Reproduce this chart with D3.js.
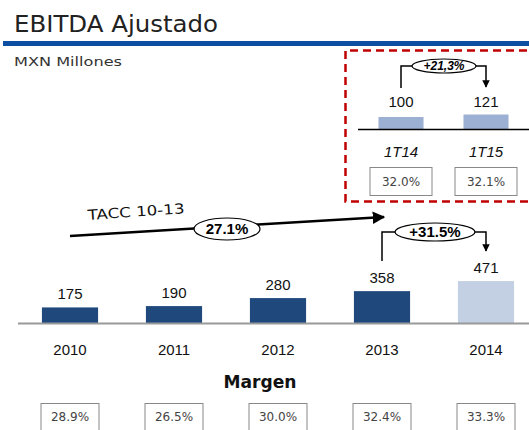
<!DOCTYPE html>
<html>
<head>
<meta charset="utf-8">
<script src="https://cdn.jsdelivr.net/npm/d3@7"></script>
<style>
  body { margin: 0; background: #fff; }
  text { font-family: "Liberation Sans", Arial, sans-serif; }
  .gothic { font-family: "DejaVu Sans", sans-serif; }
</style>
</head>
<body>
<div id="chart"></div>
<script>
"use strict";

var years = ["2010", "2011", "2012", "2013", "2014"];
var ebitda = [175, 190, 280, 358, 471];
var margins = ["28.9%", "26.5%", "30.0%", "32.4%", "33.3%"];
var quarters = ["1T14", "1T15"];
var quarterValues = [100, 121];
var quarterMargins = ["32.0%", "32.1%"];
var cagrLabel = "27.1%";
var yearGrowth = "+31.5%";
var quarterGrowth = "+21,3%";

var W = 529, H = 430;
var darkBlue = "#1f497d", lightBlue = "#c3cfe2", midBlue = "#9bb0d2";

var svg = d3.select("#chart").append("svg")
  .attr("width", W).attr("height", H);

var defs = svg.append("defs");
defs.append("marker")
  .attr("id", "arrow")
  .attr("viewBox", "0 0 10 10")
  .attr("refX", 9).attr("refY", 5)
  .attr("markerWidth", 5).attr("markerHeight", 5.5)
  .attr("orient", "auto")
  .append("path").attr("d", "M0,0L10,5L0,10z").attr("fill", "#000");

// header
svg.append("text").attr("class", "gothic")
  .attr("x", 14).attr("y", 32)
  .attr("font-size", 23).attr("fill", "#222")
  .attr("textLength", 204).attr("lengthAdjust", "spacingAndGlyphs")
  .text("EBITDA Ajustado");
svg.append("rect").attr("x", 3).attr("y", 41).attr("width", W).attr("height", 5)
  .attr("fill", "#0b4ea2");
svg.append("text").attr("class", "gothic")
  .attr("x", 14).attr("y", 66)
  .attr("font-size", 13).attr("fill", "#333")
  .attr("textLength", 108).attr("lengthAdjust", "spacingAndGlyphs")
  .text("MXN Millones");

// main chart
var baseY = 323;
var x = d3.scaleBand().domain(years).range([18, 538])
  .paddingInner(0.46).paddingOuter(0.23);
var y = d3.scaleLinear().domain([0, 500]).range([baseY, baseY - 44.5]);

var bars = svg.append("g");
bars.selectAll("rect").data(ebitda).enter().append("rect")
  .attr("x", function(d, i) { return x(years[i]); })
  .attr("width", x.bandwidth())
  .attr("y", function(d) { return y(d); })
  .attr("height", function(d) { return baseY - y(d); })
  .attr("fill", function(d, i) { return i === years.length - 1 ? lightBlue : darkBlue; });

bars.selectAll("text.val").data(ebitda).enter().append("text")
  .attr("class", "val")
  .attr("x", function(d, i) { return x(years[i]) + x.bandwidth() / 2; })
  .attr("y", function(d) { return y(d) - 8; })
  .attr("text-anchor", "middle").attr("font-size", 15).attr("fill", "#111")
  .text(function(d) { return d; });

var axis = svg.append("g").attr("transform", "translate(0," + baseY + ")")
  .call(d3.axisBottom(x).tickSize(0).tickPadding(21));
axis.select(".domain").attr("stroke", "#999").attr("stroke-width", 2)
  .attr("d", "M18,0.5H529");
axis.selectAll("text").attr("font-size", 15).attr("fill", "#111")
  .attr("font-family", "Liberation Sans, Arial, sans-serif");

svg.append("text").attr("class", "gothic")
  .attr("x", 260).attr("y", 388).attr("text-anchor", "middle")
  .attr("font-size", 17).attr("font-weight", "bold").attr("fill", "#111")
  .attr("textLength", 73).attr("lengthAdjust", "spacingAndGlyphs")
  .text("Margen");

var mBox = svg.append("g");
mBox.selectAll("rect").data(margins).enter().append("rect")
  .attr("x", function(d, i) { return x(years[i]) + x.bandwidth() / 2 - 29; })
  .attr("y", 403.5).attr("width", 58).attr("height", 30)
  .attr("fill", "#fff").attr("stroke", "#888").attr("stroke-width", 1);
mBox.selectAll("text").data(margins).enter().append("text")
  .attr("class", "gothic")
  .attr("x", function(d, i) { return x(years[i]) + x.bandwidth() / 2; })
  .attr("y", 421).attr("text-anchor", "middle")
  .attr("font-size", 12).attr("fill", "#444")
  .text(function(d) { return d; });

// CAGR arrow
var cx0 = x(years[0]) + x.bandwidth() / 2;
svg.append("line")
  .attr("x1", cx0).attr("y1", 236).attr("x2", 384).attr("y2", 217)
  .attr("stroke", "#000").attr("stroke-width", 2.5)
  .attr("marker-end", "url(#arrow)");
svg.append("ellipse").attr("cx", 227).attr("cy", 229).attr("rx", 33).attr("ry", 11)
  .attr("fill", "#fff").attr("stroke", "#000").attr("stroke-width", 1.2);
svg.append("text").attr("x", 227).attr("y", 234).attr("text-anchor", "middle")
  .attr("font-size", 15).attr("font-weight", "bold").text(cagrLabel);
svg.append("text").attr("class", "gothic")
  .attr("transform", "translate(88,220) rotate(-4)")
  .attr("font-size", 14).attr("fill", "#111")
  .attr("textLength", 97).attr("lengthAdjust", "spacingAndGlyphs")
  .text("TACC 10-13");

// growth bracket with label in an ellipse
function bracket(x1, x2, yTop, yStart, yEnd, cxE, rx, ry, label, size, italic) {
  var g = svg.append("g");
  g.append("path")
    .attr("d", "M" + x1 + "," + yStart + "V" + yTop + "H" + x2 + "V" + yEnd)
    .attr("fill", "none").attr("stroke", "#000").attr("stroke-width", 1.5)
    .attr("marker-end", "url(#arrow)");
  g.append("ellipse").attr("cx", cxE).attr("cy", yTop).attr("rx", rx).attr("ry", ry)
    .attr("fill", "#fff").attr("stroke", "#000").attr("stroke-width", 1.2);
  g.append("text").attr("x", cxE).attr("y", yTop + size * 0.36)
    .attr("text-anchor", "middle").attr("font-size", size).attr("font-weight", "bold")
    .attr("font-style", italic ? "italic" : "normal").text(label);
}
var cx3 = x(years[3]) + x.bandwidth() / 2, cx4 = x(years[4]) + x.bandwidth() / 2;
bracket(cx3, cx4, 232, 261, 251, 435, 40, 9, yearGrowth, 15, false);

// quarter inset
svg.append("path")
  .attr("d", "M540,50.5H345.5V201.5H540")
  .attr("fill", "none").attr("stroke", "#c00000").attr("stroke-width", 2.5)
  .attr("stroke-dasharray", "8,5");

var qBase = 129;
var qx = d3.scaleBand().domain(quarters).range([358.5, 528.5])
  .paddingInner(0.47).paddingOuter(0.235);
var qy = d3.scaleLinear().domain([0, 121]).range([qBase, qBase - 14.5]);

svg.selectAll("rect.q").data(quarterValues).enter().append("rect")
  .attr("class", "q")
  .attr("x", function(d, i) { return qx(quarters[i]); })
  .attr("width", qx.bandwidth())
  .attr("y", function(d) { return qy(d); })
  .attr("height", function(d) { return qBase - qy(d); })
  .attr("fill", midBlue);
svg.selectAll("text.qv").data(quarterValues).enter().append("text")
  .attr("class", "qv")
  .attr("x", function(d, i) { return qx(quarters[i]) + qx.bandwidth() / 2; })
  .attr("y", 107).attr("text-anchor", "middle")
  .attr("font-size", 15).attr("fill", "#111")
  .text(function(d) { return d; });

var qAxis = svg.append("g").attr("transform", "translate(0," + qBase + ")")
  .call(d3.axisBottom(qx).tickSize(0).tickPadding(17));
qAxis.select(".domain").attr("stroke", "#000").attr("stroke-width", 1.5)
  .attr("d", "M358,0.5H529");
qAxis.selectAll("text").attr("font-size", 15).attr("font-style", "italic")
  .attr("fill", "#111").attr("font-family", "Liberation Sans, Arial, sans-serif");

svg.selectAll("rect.qm").data(quarterMargins).enter().append("rect")
  .attr("class", "qm")
  .attr("x", function(d, i) { return qx(quarters[i]) + qx.bandwidth() / 2 - 31; })
  .attr("y", 167.5).attr("width", 62).attr("height", 28)
  .attr("fill", "#fff").attr("stroke", "#888").attr("stroke-width", 1);
svg.selectAll("text.qm").data(quarterMargins).enter().append("text")
  .attr("class", "qm gothic")
  .attr("x", function(d, i) { return qx(quarters[i]) + qx.bandwidth() / 2; })
  .attr("y", 186).attr("text-anchor", "middle")
  .attr("font-size", 12).attr("fill", "#444")
  .text(function(d) { return d; });

var q0 = qx(quarters[0]) + qx.bandwidth() / 2, q1 = qx(quarters[1]) + qx.bandwidth() / 2;
bracket(q0, q1, 66, 88, 87, 444, 32, 7, quarterGrowth, 12, true);
</script>
</body>
</html>
